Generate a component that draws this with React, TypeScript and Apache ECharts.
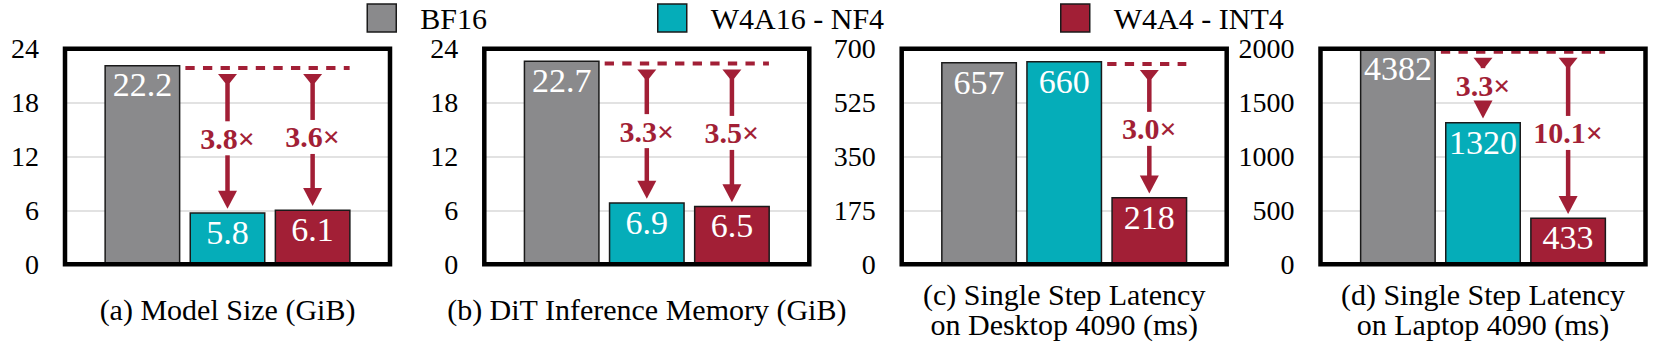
import React, { useEffect, useRef } from 'react';
import * as echarts from 'echarts';

// ---------- data ----------
const seriesNames = ['BF16', 'W4A16 - NF4', 'W4A4 - INT4'];
const panelTitles = [
  '(a) Model Size (GiB)',
  '(b) DiT Inference Memory (GiB)',
  '(c) Single Step Latency\non Desktop 4090 (ms)',
  '(d) Single Step Latency\non Laptop 4090 (ms)',
];
const bf16Values = [22.2, 22.7, 657, 4382];
const nf4Values = [5.8, 6.9, 660, 1320];
const int4Values = [6.1, 6.5, 218, 433];
const yMaxes = [24, 24, 700, 2000];
const yIntervals = [6, 6, 175, 500];
const nf4Speedups = ['3.8×', '3.3×', '', '3.3×'];
const int4Speedups = ['3.6×', '3.5×', '3.0×', '10.1×'];
const dashStartBar = [0, 0, 1, 0]; // bar whose top the dashed reference line starts from

// ---------- style / layout ----------
const COLORS = ['#8a8a8c', '#05adb9', '#a21f36'];
const RED = '#a21f36';
const FONT = 'Liberation Serif, Times New Roman, serif';
const GRID_LEFTS = [65, 484.3, 901.7, 1320.5];
const GRID_W = 325;
const GRID_TOP = 48.8;
const GRID_H = 215.4;
const BAR_W = 76;
const BAR_GAP = 0.12;
const LEGEND_LEFTS = [366.5, 657, 1060];
const TITLE_CENTER_Y = 309;
const TITLE_LH = 30;
const FRAME_W = 4.5;

const valuesBySeries = [bf16Values, nf4Values, int4Values];
const speedupsBySeries = [[], nf4Speedups, int4Speedups];

export default function App() {
  const ref = useRef<HTMLDivElement>(null);

  useEffect(() => {
    if (!ref.current) return;
    const chart = echarts.init(ref.current, undefined, { renderer: 'svg' });
    const spacing = BAR_W * (1 + BAR_GAP);

    const grids: any[] = [];
    const xAxes: any[] = [];
    const yAxes: any[] = [];
    const series: any[] = [];

    panelTitles.forEach((title, p) => {
      grids.push({
        left: GRID_LEFTS[p],
        top: GRID_TOP,
        width: GRID_W,
        height: GRID_H,
        show: true,
        borderColor: '#000',
        borderWidth: FRAME_W,
        backgroundColor: 'rgba(0,0,0,0)',
        z: 20,
      });
      const lines = title.split('\n').length;
      xAxes.push({
        type: 'category',
        gridIndex: p,
        data: [''],
        axisLine: { show: false },
        axisTick: { show: false },
        axisLabel: { show: false },
        splitLine: { show: false },
        name: title,
        nameLocation: 'middle',
        nameGap: TITLE_CENTER_Y - (GRID_TOP + GRID_H) - (lines * TITLE_LH) / 2,
        nameTextStyle: { fontFamily: FONT, fontSize: 30, color: '#000', lineHeight: TITLE_LH },
      });
      yAxes.push({
        type: 'value',
        gridIndex: p,
        min: 0,
        max: yMaxes[p],
        interval: yIntervals[p],
        axisLine: { show: false },
        axisTick: { show: false },
        axisLabel: {
          fontFamily: FONT,
          fontSize: 28,
          lineHeight: 20,
          color: '#000',
          margin: 26,
          formatter: (v: number) => String(v),
        },
        splitLine: { show: true, lineStyle: { color: '#d9d9d9', width: 1.5 } },
      });

      seriesNames.forEach((name, s) => {
        series.push({
          type: 'bar',
          name,
          xAxisIndex: p,
          yAxisIndex: p,
          data: [valuesBySeries[s][p]],
          barWidth: BAR_W,
          barGap: `${BAR_GAP * 100}%`,
          clip: true,
          itemStyle: { color: COLORS[s], borderColor: '#1a1a1a', borderWidth: 1.5 },
          label: {
            show: true,
            position: 'insideTop',
            distance: 3,
            color: '#fff',
            fontFamily: FONT,
            fontSize: 34,
            formatter: (prm: any) => String(prm.value),
          },
          emphasis: { disabled: true },
          silent: true,
        });
      });

      const refIdx = dashStartBar[p];
      const refValue = Math.min(valuesBySeries[refIdx][p], yMaxes[p]);
      const annData: number[][] = [[0, refValue, refIdx, 0]];
      [1, 2].forEach((s) => {
        if (speedupsBySeries[s][p]) annData.push([0, valuesBySeries[s][p], s, 1]);
      });

      series.push({
        type: 'custom',
        xAxisIndex: p,
        yAxisIndex: p,
        z: 10,
        silent: true,
        clip: false,
        data: annData,
        renderItem: (params: any, api: any) => {
          const target = api.value(1);
          const barIdx = api.value(2);
          const kind = api.value(3);
          const cx = api.coord([0, 0])[0];
          const yRef = api.coord([0, refValue])[1] + 3;
          if (kind === 0) {
            const x1 = cx + (barIdx - 1) * spacing + BAR_W / 2 + 5;
            const x2 = cx + spacing + BAR_W / 2 - 1;
            return {
              type: 'line',
              shape: { x1, y1: yRef, x2, y2: yRef },
              style: { stroke: RED, lineWidth: 4, lineDash: [9.3, 8.3] },
            };
          }
          const x = cx + (barIdx - 1) * spacing;
          const yTail = yRef + 6;
          const yTip = api.coord([0, target])[1] - 3.5;
          const mid = (yTail + yTip) / 2 - 3;
          const text = speedupsBySeries[barIdx][p];
          const children: any[] = [
            {
              type: 'polygon',
              shape: { points: [[x - 9.5, yTail], [x + 9.5, yTail], [x + 2.3, yTail + 9], [x - 2.3, yTail + 9]] },
              style: { fill: RED },
            },
            {
              type: 'polygon',
              shape: { points: [[x - 9.5, yTip - 18], [x + 9.5, yTip - 18], [x, yTip]] },
              style: { fill: RED },
            },
            {
              type: 'text',
              style: {
                text,
                x,
                y: mid,
                align: 'center',
                verticalAlign: 'middle',
                textAlign: 'center',
                textVerticalAlign: 'middle',
                fill: RED,
                fontFamily: FONT,
                fontSize: 30,
                fontWeight: 'bold',
              },
            },
          ];
          if (mid - 17 > yTail + 8) {
            children.push({
              type: 'line',
              shape: { x1: x, y1: yTail + 8, x2: x, y2: mid - 17 },
              style: { stroke: RED, lineWidth: 4.5 },
            });
          }
          if (yTip - 17 > mid + 17) {
            children.push({
              type: 'line',
              shape: { x1: x, y1: mid + 17, x2: x, y2: yTip - 17 },
              style: { stroke: RED, lineWidth: 4.5 },
            });
          }
          return { type: 'group', children };
        },
      });
    });

    chart.setOption({
      animation: false,
      backgroundColor: '#fff',
      legend: seriesNames.map((n, i) => ({
        data: [n],
        left: LEGEND_LEFTS[i],
        top: 3,
        padding: 0,
        icon: 'rect',
        itemWidth: 29,
        itemHeight: 28,
        selectedMode: false,
        itemStyle: { borderColor: '#1a1a1a', borderWidth: 1.5 },
        textStyle: {
          fontFamily: FONT,
          fontSize: 30,
          lineHeight: 20,
          color: '#000',
          padding: [0, 0, 0, 19],
        },
      })),
      grid: grids,
      xAxis: xAxes,
      yAxis: yAxes,
      series,
    });

    return () => chart.dispose();
  }, []);

  return (
    <div
      ref={ref}
      style={{ position: 'fixed', left: 0, top: 0, width: 1661, height: 347, background: '#fff' }}
    />
  );
}
